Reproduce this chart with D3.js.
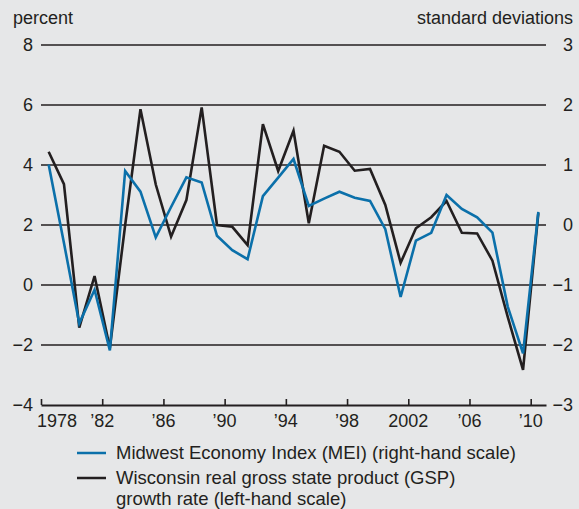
<!DOCTYPE html>
<html>
<head>
<meta charset="utf-8">
<script src="https://cdn.jsdelivr.net/npm/d3@7/dist/d3.min.js"></script>
<style>
  html, body { margin: 0; padding: 0; background: #e6e7e8; }
  svg { display: block; }
  text { font-family: "Liberation Sans", Arial, Helvetica, sans-serif; fill: #231f20; }
</style>
</head>
<body>
<svg id="chart"></svg>
<script>
// years (plotted at mid-year)
var years = [1978, 1979, 1980, 1981, 1982, 1983, 1984, 1985, 1986, 1987, 1988,
  1989, 1990, 1991, 1992, 1993, 1994, 1995, 1996, 1997, 1998, 1999,
  2000, 2001, 2002, 2003, 2004, 2005, 2006, 2007, 2008, 2009, 2010];

// Midwest Economy Index, standard deviations (right-hand scale)
var mei = [1.01, -0.3, -1.64, -1.08, -2.09, 0.9, 0.555, -0.205, 0.3, 0.795, 0.71,
  -0.18, -0.42, -0.57, 0.48, 0.79, 1.1, 0.317, 0.44, 0.555, 0.455, 0.4,
  -0.07, -1.2, -0.26, -0.13, 0.5, 0.267, 0.128, -0.128, -1.36, -2.14, 0.22];

// Wisconsin real GSP growth, percent (left-hand scale)
var gsp = [4.44, 3.36, -1.42, 0.30, -2.1, 2.0, 5.86, 3.35, 1.61, 2.83, 5.92,
  2.0, 1.94, 1.33, 5.36, 3.8, 5.14, 2.06, 4.64, 4.44, 3.81, 3.87,
  2.67, 0.74, 1.89, 2.26, 2.8, 1.74, 1.72, 0.81, -1.06, -2.83, 2.4];

var leftTicks = [-4, -2, 0, 2, 4, 6, 8];
var rightTicks = [-3, -2, -1, 0, 1, 2, 3];
var xTicks = [1978, 1982, 1986, 1990, 1994, 1998, 2002, 2006, 2010];
var xTickLabels = ['1978', '\u201982', '\u201986', '\u201990', '\u201994', '\u201998', '2002', '\u201906', '\u201910'];

var W = 579, H = 509;
var ink = '#231f20', blue = '#0b70aa';

var svg = d3.select('#chart').attr('width', W).attr('height', H);
svg.append('rect').attr('width', W).attr('height', H).attr('fill', '#e6e7e8');

var x = d3.scaleLinear().domain([1978, 2011]).range([41, 546]);
var yL = d3.scaleLinear().domain([-4, 8]).range([405, 45]);
var yR = d3.scaleLinear().domain([-3, 3]).range([405, 45]);

// horizontal gridlines (not the bottom one, that's the axis)
svg.append('g').selectAll('line')
  .data(leftTicks.filter(function (d) { return d > -4; }))
  .enter().append('line')
  .attr('x1', x(1978)).attr('x2', x(2011))
  .attr('y1', function (d) { return yL(d); })
  .attr('y2', function (d) { return yL(d); })
  .attr('stroke', ink).attr('stroke-width', 1.6);

// bottom axis with ticks pointing up
var xAxis = d3.axisBottom(x).tickValues(xTicks).tickSizeInner(-6).tickSizeOuter(0).tickFormat('');
var gx = svg.append('g').attr('transform', 'translate(0,' + yL(-4) + ')').call(xAxis);
gx.select('.domain').attr('stroke', ink).attr('stroke-width', 2);
gx.selectAll('.tick line').attr('stroke', ink).attr('stroke-width', 1.6);

svg.append('g').selectAll('text')
  .data(xTicks)
  .enter().append('text')
  .attr('x', function (d, i) { return i === 0 ? x(d) - 4 : x(d); })
  .attr('y', 427)
  .attr('text-anchor', function (d, i) { return i === 0 ? 'start' : 'middle'; })
  .attr('font-size', 18)
  .text(function (d, i) { return xTickLabels[i]; });

// left axis labels
svg.append('g').selectAll('text')
  .data(leftTicks)
  .enter().append('text')
  .attr('x', 33)
  .attr('y', function (d) { return yL(d); })
  .attr('dy', '0.35em')
  .attr('text-anchor', 'end')
  .attr('font-size', 18)
  .text(function (d) { return d < 0 ? '\u2212' + Math.abs(d) : d; });

// right axis labels
svg.append('g').selectAll('text')
  .data(rightTicks)
  .enter().append('text')
  .attr('x', 573)
  .attr('y', function (d) { return yR(d); })
  .attr('dy', '0.35em')
  .attr('text-anchor', 'end')
  .attr('font-size', 18)
  .text(function (d) { return d < 0 ? '\u2212' + Math.abs(d) : d; });

svg.append('text').attr('x', 13).attr('y', 24).attr('font-size', 18).text('percent');
svg.append('text').attr('x', 573).attr('y', 24).attr('text-anchor', 'end')
  .attr('font-size', 18).text('standard deviations');

// lines
var gspLine = d3.line()
  .x(function (d, i) { return x(years[i] + 0.5); })
  .y(function (d) { return yL(d); });
var meiLine = d3.line()
  .x(function (d, i) { return x(years[i] + 0.5); })
  .y(function (d) { return yR(d); });

svg.append('path').datum(gsp).attr('d', gspLine)
  .attr('fill', 'none').attr('stroke', ink).attr('stroke-width', 2.6).attr('stroke-linejoin', 'miter');
svg.append('path').datum(mei).attr('d', meiLine)
  .attr('fill', 'none').attr('stroke', blue).attr('stroke-width', 2.6).attr('stroke-linejoin', 'miter');

// legend
var legend = svg.append('g');
legend.append('line').attr('x1', 77).attr('x2', 106).attr('y1', 453).attr('y2', 453)
  .attr('stroke', blue).attr('stroke-width', 2.5);
legend.append('text').attr('x', 116).attr('y', 459).attr('font-size', 18.5)
  .text('Midwest Economy Index (MEI) (right-hand scale)');
legend.append('line').attr('x1', 77).attr('x2', 106).attr('y1', 478).attr('y2', 478)
  .attr('stroke', ink).attr('stroke-width', 2.5);
legend.append('text').attr('x', 116).attr('y', 484).attr('font-size', 18.5)
  .text('Wisconsin real gross state product (GSP)');
legend.append('text').attr('x', 116).attr('y', 505).attr('font-size', 18.5)
  .text('growth rate (left-hand scale)');
</script>
</body>
</html>
